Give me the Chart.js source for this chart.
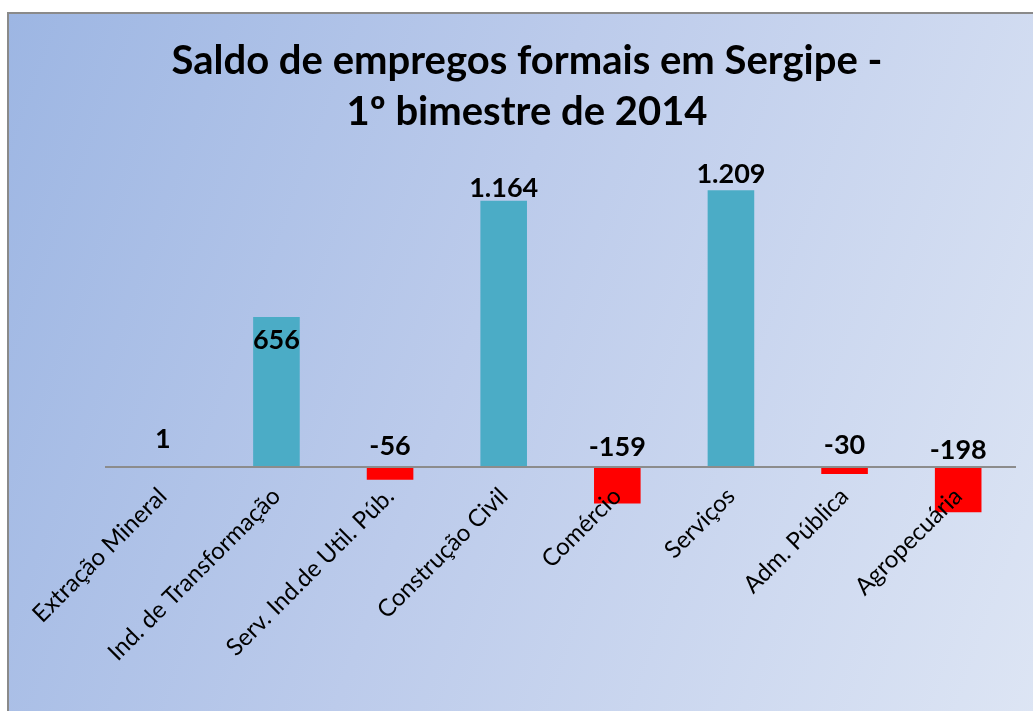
<!DOCTYPE html>
<html>
<head>
<meta charset="utf-8">
<script src="https://cdn.jsdelivr.net/npm/chart.js@4/dist/chart.umd.min.js"></script>
<style>
  html, body { margin: 0; padding: 0; background: #fff; overflow: hidden; }
  #frame {
    position: absolute; left: 7px; top: 12px; width: 1030px; height: 705px;
    border-left: 2px solid #8a8a8a; border-top: 2px solid #8a8a8a;
    background: linear-gradient(110deg, #9db6e3 0%, #bccbeb 45%, #dde5f4 100%);
  }
  #box { position: absolute; left: 0; top: 0; width: 1024px; height: 697px; }
</style>
</head>
<body>
<div id="frame"><div id="box"><canvas id="graf1"></canvas></div></div>
<script>
// data
var setores = ["Extração Mineral", "Ind. de Transformação", "Serv. Ind.de Util. Púb.",
  "Construção Civil", "Comércio", "Serviços", "Adm. Pública", "Agropecuária"];
var saldo = [1, 656, -56, 1164, -159, 1209, -30, -198];
var titulo = ["Saldo de empregos formais em Sergipe -", "1º bimestre de 2014"];

// label offsets (px) from bar end / zero line, like the original
var labelDy = [-28, 23, -21, -12, -20, -16, -22, -17];

function fmt(v) {
  var s = Math.abs(v).toString().replace(/\B(?=(\d{3})+(?!\d))/g, ".");
  return (v < 0 ? "-" : "") + s;
}

var valueLabels = {
  id: 'valueLabels',
  afterDraw: function(chart) {
    var ctx = chart.ctx;
    var meta = chart.getDatasetMeta(0);
    var y0 = chart.scales.y.getPixelForValue(0);
    ctx.save();
    ctx.font = "bold 27px Lato";
    ctx.fillStyle = "#000";
    ctx.textAlign = "center";
    ctx.textBaseline = "middle";
    meta.data.forEach(function(bar, i) {
      var v = saldo[i];
      var y = v >= 0 ? bar.y + labelDy[i] : y0 + labelDy[i];
      ctx.fillText(fmt(v), bar.x, y);
    });
    ctx.restore();
  }
};

var g1 = document.getElementById('graf1');
var chart = new Chart(g1, {
  type: 'bar',
  data: {
    labels: setores,
    datasets: [{
      data: saldo,
      backgroundColor: saldo.map(function(v) { return v < 0 ? "#ff0000" : "#4bacc6"; }),
      borderWidth: 0,
      barPercentage: 0.41,
      categoryPercentage: 1
    }]
  },
  options: {
    responsive: true,
    maintainAspectRatio: false,
    animation: false,
    layout: { padding: { left: 30, right: 18, top: 0, bottom: 0 } },
    plugins: {
      legend: { display: false },
      tooltip: { enabled: false },
      title: {
        display: true,
        text: titulo,
        color: "#000",
        font: { family: "Lato", size: 40, weight: "bold", lineHeight: 1.27 },
        padding: { top: 22, bottom: 15 }
      }
    },
    scales: {
      x: {
        position: { y: 0 },
        grid: { display: false, drawTicks: false },
        border: { display: true, color: "#8c8c8c", width: 2, z: 1 },
        ticks: {
          color: "#000",
          font: { family: "Lato", size: 24 },
          minRotation: 45, maxRotation: 45,
          padding: 15,
          z: 1
        }
      },
      y: {
        display: true,
        min: -1066, max: 1374,
        grid: { display: false },
        border: { display: false },
        ticks: { display: false },
        afterFit: function(scale) { scale.width = 67; }
      }
    }
  },
  plugins: [valueLabels]
});
</script>
</body>
</html>
